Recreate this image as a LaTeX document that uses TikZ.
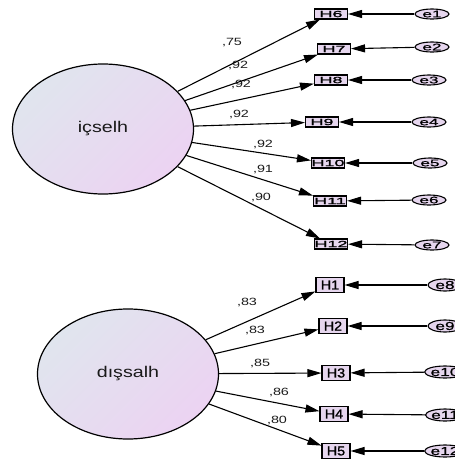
\documentclass[tikz,border=0pt]{standalone}
\usepackage{fontspec}
\setmainfont{Liberation Sans}
\newfontfamily\latfont[FakeStretch=1.27]{Liberation Sans}
\newfontfamily\loadfont[FakeStretch=1.37]{Liberation Sans}
\newfontfamily\topbfont[FakeStretch=2.0,FakeBold=1.5]{Liberation Sans}
\newfontfamily\botbfont[FakeStretch=1.1,FakeBold=1]{Liberation Sans}
\newfontfamily\errfont[FakeStretch=1.8,FakeBold=1]{Liberation Sans}
\newfontfamily\berrfont[FakeStretch=1.5,FakeBold=1]{Liberation Sans}
\usetikzlibrary{arrows.meta,shapes.geometric}
\definecolor{latA}{HTML}{E0E5EE}
\definecolor{latB}{HTML}{ECD3F2}
\definecolor{boxc}{HTML}{E6D6EE}
\definecolor{txt}{HTML}{1A1A1A}
\tikzset{
  latent/.style={ellipse, draw, line width=1.2pt, minimum width=181pt, minimum height=130pt, inner sep=0pt,
    top color=latA, bottom color=latB, shading angle=45, text=txt,
    font=\latfont\fontsize{15.5}{16}\selectfont},
  tbox/.style={rectangle, draw, line width=1.1pt, fill=boxc, minimum width=33pt, minimum height=10pt, inner sep=0pt,
    font=\topbfont\fontsize{9}{9}\selectfont},
  bbox/.style={rectangle, draw, line width=1.1pt, fill=boxc, minimum width=28pt, minimum height=15pt, inner sep=0pt,
    font=\botbfont\fontsize{13}{13}\selectfont},
  terr/.style={ellipse, draw, line width=1.1pt, fill=boxc, minimum width=34pt, minimum height=10pt, inner sep=0pt,
    font=\errfont\fontsize{9.5}{9}\selectfont},
  berr/.style={ellipse, draw, line width=1.1pt, fill=boxc, minimum width=34pt, minimum height=12pt, inner sep=0pt,
    font=\berrfont\fontsize{11.5}{11}\selectfont},
  arr/.style={line width=1.1pt, -{Triangle[length=14pt,width=8pt]}},
  lab/.style={inner sep=0pt, text=txt, font=\loadfont\fontsize{10.5}{10}\selectfont}
}
\begin{document}
\begin{tikzpicture}[x=1pt,y=-1pt]
\useasboundingbox (0,0) rectangle (455,464);
\clip (0,0) rectangle (455,464);
% top latent
\node[latent] (ic) at (103,129) {içselh};
\node[tbox] (H6) at (331,14) {H6};
\node[tbox] (H7) at (334,49) {H7};
\node[tbox] (H8) at (331,80) {H8};
\node[tbox] (H9) at (322,122) {H9};
\node[tbox] (H10) at (328,163) {H10};
\node[tbox] (H11) at (330,201) {H11};
\node[tbox] (H12) at (331,244) {H12};
\node[terr] (e1) at (432,14) {e1};
\node[terr] (e2) at (432,47) {e2};
\node[terr] (e3) at (429,80) {e3};
\node[terr] (e4) at (429,122) {e4};
\node[terr] (e5) at (430,163) {e5};
\node[terr] (e6) at (429,200) {e6};
\node[terr] (e7) at (432,245) {e7};
\foreach \h in {H6,H7,H8,H9,H10,H11,H12} {\draw[arr] (ic) -- (\h);}
\draw[arr] (e1) -- (H6);
\draw[arr] (e2) -- (H7);
\draw[arr] (e3) -- (H8);
\draw[arr] (e4) -- (H9);
\draw[arr] (e5) -- (H10);
\draw[arr] (e6) -- (H11);
\draw[arr] (e7) -- (H12);
\node[lab] (l6) at (232,43) {,75};
\node[lab] (l7) at (238,66) {,92};
\node[lab] (l8) at (241,85) {,92};
\node[lab] (l9) at (239,115) {,92};
\node[lab] (l10) at (263,145) {,92};
\node[lab] (l11) at (263,170) {,91};
\node[lab] (l12) at (261,198) {,90};
% bottom latent
\node[latent] (di) at (128,374) {dışsalh};
\node[bbox] (H1) at (330,285) {H1};
\node[bbox] (H2) at (333,326) {H2};
\node[bbox] (H3) at (336,373) {H3};
\node[bbox] (H4) at (334,414) {H4};
\node[bbox] (H5) at (336,451) {H5};
\node[berr] (e8) at (445,285) {e8};
\node[berr] (e9) at (445,326) {e9};
\node[berr] (e10) at (445,372) {e10};
\node[berr] (e11) at (445,415) {e11};
\node[berr] (e12) at (445,451) {e12};
\foreach \h in {H1,H2,H3,H4,H5} {\draw[arr] (di) -- (\h);}
\draw[arr] (e8) -- (H1);
\draw[arr] (e9) -- (H2);
\draw[arr] (e10) -- (H3);
\draw[arr] (e11) -- (H4);
\draw[arr] (e12) -- (H5);
\node[lab] (l1) at (247,303) {,83};
\node[lab] (l2) at (255,331) {,83};
\node[lab] (l3) at (260,364) {,85};
\node[lab] (l4) at (279,393) {,86};
\node[lab] (l5) at (277,421) {,80};
\end{tikzpicture}
\end{document}
